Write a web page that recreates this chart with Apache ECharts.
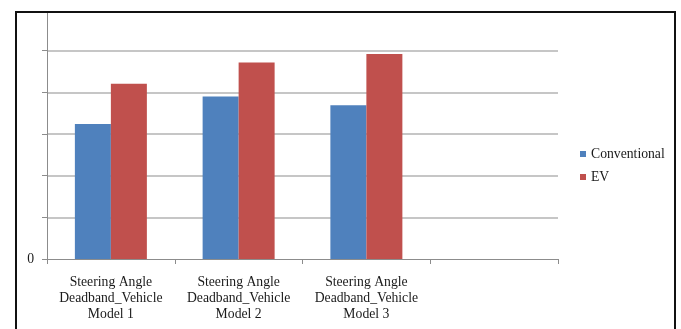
<!DOCTYPE html>
<html>
<head>
<meta charset="utf-8">
<script src="https://cdn.jsdelivr.net/npm/echarts@6/dist/echarts.min.js"></script>
<style>
  html, body { margin: 0; padding: 0; background: #fff; }
  #chart { width: 681px; height: 329px; }
</style>
</head>
<body>
<div id="chart"></div>
<script>
// Steering angle deadband per vehicle model, conventional vs EV
const categories = [
  'Steering Angle\nDeadband_Vehicle\nModel 1',
  'Steering Angle\nDeadband_Vehicle\nModel 2',
  'Steering Angle\nDeadband_Vehicle\nModel 3',
  ''
];
const conventional = [3.24, 3.90, 3.69, null];
const ev = [4.21, 4.72, 4.92, null];
const seriesNames = ['Conventional', 'EV'];

const FONT = '"Liberation Serif", "DejaVu Serif", serif';
const TEXT = '#1a1a1a';

const chart = echarts.init(document.getElementById('chart'), null, { renderer: 'canvas' });
chart.setOption({
  animation: false,
  backgroundColor: '#ffffff',
  grid: { left: 47, right: 123, top: 12, bottom: 70, containLabel: false },
  legend: {
    orient: 'vertical',
    left: 580,
    top: 146,
    padding: 0,
    itemWidth: 6,
    itemHeight: 6,
    itemGap: 7,
    icon: 'rect',
    textStyle: { fontFamily: FONT, fontSize: 13.7, color: TEXT, lineHeight: 16 },
    data: seriesNames
  },
  xAxis: {
    type: 'category',
    data: categories,
    boundaryGap: true,
    axisLine: { lineStyle: { color: '#8c8c8c', width: 1 } },
    axisTick: { show: true, length: 5, alignWithLabel: false, lineStyle: { color: '#8c8c8c' } },
    axisLabel: {
      interval: 0,
      margin: 15,
      fontFamily: FONT,
      fontSize: 13.7,
      lineHeight: 16,
      color: TEXT,
      align: 'center'
    },
    splitLine: { show: false }
  },
  yAxis: {
    type: 'value',
    min: 0,
    max: 5.93,
    interval: 1,
    axisLine: { show: true, lineStyle: { color: '#8c8c8c', width: 1 } },
    axisTick: { show: true, length: 5, lineStyle: { color: '#8c8c8c' } },
    axisLabel: {
      margin: 13,
      fontFamily: FONT,
      fontSize: 13.7,
      color: TEXT,
      showMaxLabel: false,
      formatter: v => (v === 0 ? '0' : '')
    },
    splitLine: { show: true, showMinLine: false, showMaxLine: false, lineStyle: { color: '#b3b3b3', width: 1.5 } }
  },
  series: [
    {
      name: seriesNames[0],
      type: 'bar',
      data: conventional,
      barWidth: 36,
      barGap: '0%',
      itemStyle: { color: '#4f81bd' }
    },
    {
      name: seriesNames[1],
      type: 'bar',
      data: ev,
      barWidth: 36,
      barGap: '0%',
      itemStyle: { color: '#c0504d' }
    }
  ],
  graphic: [
    {
      type: 'rect',
      z: 100,
      silent: true,
      shape: { x: 16, y: 12, width: 659, height: 400 },
      style: { fill: 'none', stroke: '#111', lineWidth: 2 }
    }
  ]
});
</script>
</body>
</html>
